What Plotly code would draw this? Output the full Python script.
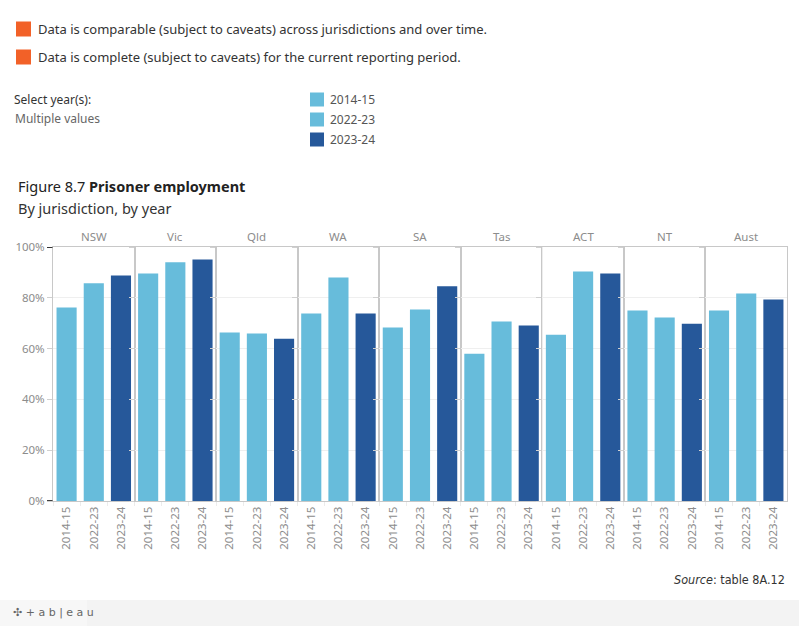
import plotly.graph_objects as go
from plotly.subplots import make_subplots

jurisdictions = ["NSW", "Vic", "Qld", "WA", "SA", "Tas", "ACT", "NT", "Aust"]
years = ["2014-15", "2022-23", "2023-24"]
values_2014_15 = [76.2, 89.6, 66.3, 73.8, 68.3, 58.0, 65.5, 75.0, 75.0]
values_2022_23 = [85.7, 94.0, 65.9, 88.0, 75.4, 70.7, 90.4, 72.2, 81.7]
values_2023_24 = [88.8, 95.1, 63.9, 73.8, 84.5, 69.1, 89.6, 69.8, 79.3]
year_colors = ["#67BCDB", "#67BCDB", "#26589A"]
y_ticks = [0, 20, 40, 60, 80, 100]

W, H = 799, 626
L, R, T, B = 53, 12, 247, 125
PW = W - L - R
PH = H - T - B


def px(x):
    return (x - L) / PW


def py(y):
    return (H - B - y) / PH


FONT = "Noto Sans, Open Sans, sans-serif"
n = len(jurisdictions)
fig = make_subplots(rows=1, cols=n, shared_yaxes=True, horizontal_spacing=0)

series = [values_2014_15, values_2022_23, values_2023_24]
for i, j in enumerate(jurisdictions):
    fig.add_trace(
        go.Bar(
            x=years,
            y=[s[i] for s in series],
            marker=dict(color=year_colors, line=dict(width=0)),
            showlegend=False,
            name=j,
            hovertemplate=j + " %{x}: %{y:.1f}%<extra></extra>",
        ),
        row=1, col=i + 1,
    )
    axname = "xaxis" if i == 0 else f"xaxis{i + 1}"
    fig.layout[axname].update(
        type="category",
        tickangle=-90,
        tickfont=dict(family=FONT, size=11.5, color="#8c8c8c"),
        showline=True,
        linecolor="#c8c8c8",
        linewidth=1,
        mirror=True,
        ticks="outside",
        tickson="boundaries",
        ticklen=4,
        tickcolor="#ececec",
        showgrid=False,
        fixedrange=True,
    )
    xref = "x domain" if i == 0 else f"x{i + 1} domain"
    fig.add_annotation(
        text=j, xref=xref, yref="paper", x=0.5, y=1, yanchor="bottom",
        yshift=1, showarrow=False,
        font=dict(family=FONT, size=11.5, color="#8c8c8c"),
    )

fig.update_yaxes(
    range=[0, 100],
    tickvals=y_ticks,
    ticktext=[f"{v}%" for v in y_ticks],
    tickfont=dict(family=FONT, size=11.5, color="#8c8c8c"),
    showgrid=True,
    gridcolor="#efefef",
    gridwidth=1,
    zeroline=False,
    showline=True,
    linecolor="#c8c8c8",
    mirror=True,
    ticks="outside",
    ticklen=5,
    tickcolor="#d0d0d0",
    fixedrange=True,
)

shapes = []
# black end ticks on the value axis
for v in (y_ticks[0], y_ticks[-1]):
    shapes.append(dict(type="line", xref="paper", yref="y", x0=px(47), x1=px(52.5),
                       y0=v, y1=v, line=dict(color="#000000", width=1.5)))

annotations = []
# caveat legend (orange squares)
caveats = [
    "Data is comparable (subject to caveats) across jurisdictions and over time.",
    "Data is complete (subject to caveats) for the current reporting period.",
]
for k, txt in enumerate(caveats):
    cy = 29 + 28 * k
    shapes.append(dict(type="rect", xref="paper", yref="paper",
                       x0=px(16), x1=px(31), y0=py(cy - 7.5), y1=py(cy + 7.5),
                       fillcolor="#F26128", line=dict(width=0)))
    annotations.append(dict(text=txt, xref="paper", yref="paper", x=px(36), y=py(cy),
                            xanchor="left", yanchor="middle", showarrow=False,
                            font=dict(family=FONT, size=13, color="#333333")))

annotations.append(dict(text="Select year(s):", xref="paper", yref="paper", x=px(12), y=py(100),
                        xanchor="left", yanchor="middle", showarrow=False,
                        font=dict(family=FONT, size=12, color="#333333")))
annotations.append(dict(text="Multiple values", xref="paper", yref="paper", x=px(13), y=py(118),
                        xanchor="left", yanchor="middle", showarrow=False,
                        font=dict(family=FONT, size=12, color="#666666")))

# year colour legend
for k, yr in enumerate(years):
    cy = 99.5 + 20 * k
    shapes.append(dict(type="rect", xref="paper", yref="paper",
                       x0=px(310), x1=px(324), y0=py(cy - 7), y1=py(cy + 7),
                       fillcolor=year_colors[k], line=dict(width=0)))
    annotations.append(dict(text=yr, xref="paper", yref="paper", x=px(328), y=py(cy),
                            xanchor="left", yanchor="middle", showarrow=False,
                            font=dict(family=FONT, size=12, color="#555555")))

# title
annotations.append(dict(text="Figure 8.7 <b>Prisoner employment</b>", xref="paper", yref="paper",
                        x=px(16), y=py(186), xanchor="left", yanchor="middle", showarrow=False,
                        font=dict(family=FONT, size=14.5, color="#222222")))
annotations.append(dict(text="By jurisdiction, by year", xref="paper", yref="paper",
                        x=px(16), y=py(208), xanchor="left", yanchor="middle", showarrow=False,
                        font=dict(family=FONT, size=14.5, color="#333333")))

# source
annotations.append(dict(text="<i>Source</i>: table 8A.12", xref="paper", yref="paper",
                        x=px(787), y=py(579), xanchor="right", yanchor="middle", showarrow=False,
                        font=dict(family="Liberation Sans Narrow, DejaVu Sans Condensed, sans-serif",
                                  size=12.5, color="#333333")))

# footer band
shapes.append(dict(type="rect", xref="paper", yref="paper", x0=px(0), x1=px(W),
                   y0=py(H), y1=py(600), fillcolor="#f3f3f3", line=dict(width=0), layer="below"))
shapes.append(dict(type="rect", xref="paper", yref="paper", x0=px(0), x1=px(87),
                   y0=py(H), y1=py(600), fillcolor="#f7f7f7", line=dict(width=0), layer="below"))
annotations.append(dict(text="✣ + a b | e a u", xref="paper", yref="paper",
                        x=px(11), y=py(612), xanchor="left", yanchor="middle", showarrow=False,
                        font=dict(family="DejaVu Sans, sans-serif", size=11, color="#666666")))

for a in annotations:
    fig.add_annotation(**a)

fig.update_layout(
    width=W, height=H,
    margin=dict(l=L, r=R, t=T, b=B, autoexpand=False),
    paper_bgcolor="#ffffff",
    plot_bgcolor="#ffffff",
    bargap=0.26,
    shapes=shapes,
    font=dict(family=FONT),
)

fig.write_html(
    "out.html",
    config={"displayModeBar": False},
    post_script="document.body.style.margin='0';document.body.style.overflow='hidden';",
)
